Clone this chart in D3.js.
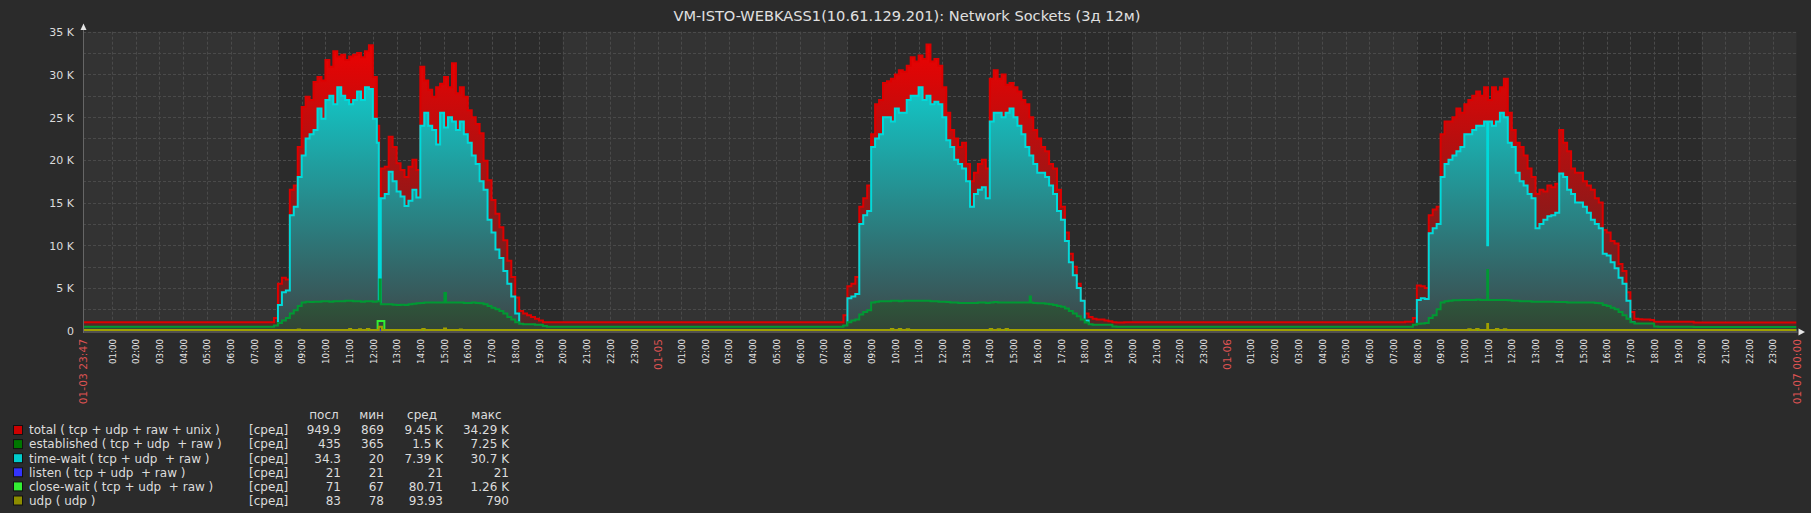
<!DOCTYPE html>
<html><head><meta charset="utf-8">
<script src="https://cdn.jsdelivr.net/npm/d3@7"></script>
<style>
html,body{margin:0;padding:0;background:#2b2b2b;}
svg{display:block;}
text{font-family:"DejaVu Sans",sans-serif;}
</style></head><body>
<svg id="chart" width="1811" height="513"></svg>
<script>
// ---------------- DATA ----------------
const chartTitle = "VM-ISTO-WEBKASS1(10.61.129.201): Network Sockets (3д 12м)";
const rangeStart = "2025-01-03 23:47";
const rangeEnd = "2025-01-07 00:00";
const dayDates = ["2025-01-04", "2025-01-05", "2025-01-06"];
const workHours = [8, 20];
const sampleFirst = "07:30";      // first 10-minute sample of each day
const sampleStepMin = 10;
const yTickValues = [0, 5, 10, 15, 20, 25, 30, 35];   // thousands
const yGridValues = [2.5, 5, 7.5, 10, 12.5, 15, 17.5, 20, 22.5, 25, 27.5, 30, 32.5, 35];

// values in thousands; nights = [before day1, after day1, after day2, after day3]
const totalNight = [1.0, 1.0, 1.0, 0.95];
const totalDay1 = [1.0,1.0,1.5, 5.5,6.2,6.0,16.5,17.0,21.5, 26.2,27.4,27.0,29.1,29.7,29.3, 31.7,30.9,32.7,32.1,32.3,31.7, 32.1,32.3,32.5,32.0,32.7,33.4, 29.7,24.0,19.0,19.2,22.7,21.5, 19.6,18.8,18.0,19.2,20.0,18.8, 30.9,29.3,28.2,27.4,28.5,28.9, 29.7,28.5,31.3,27.8,28.5,27.4, 25.8,25.0,24.2,23.1,19.9,17.6, 15.3,13.7,12.1,10.6,8.2,6.3, 3.9,2.3,2.0,1.8,1.6,1.4, 1.2,1.0,1.0,1.0];
const totalDay2 = [1.0,1.0,1.8, 5.2,5.5,6.3,14.5,15.5,17.0, 23.0,26.5,27.0,29.0,29.2,29.5, 30.0,30.5,30.3,31.0,32.0,31.5, 32.2,31.8,33.5,31.5,31.8,31.0, 28.5,25.5,23.5,22.5,21.5,22.0, 19.5,17.5,18.5,19.5,20.0,19.0, 29.5,30.5,29.5,30.0,28.8,29.0, 28.5,28.0,27.0,26.5,25.0,23.5, 22.5,21.5,21.0,19.5,19.0,16.5, 14.5,11.5,9.0,7.5,5.5,3.5, 2.0,1.6,1.4,1.3,1.3,1.2, 1.1,1.0,0.95,0.95];
const totalDay3 = [1.05,1.05,1.5, 5.3,5.2,5.0,13.5,14.2,14.5, 23.0,24.5,24.5,25.0,26.0,25.5, 26.5,27.0,27.5,28.0,27.5,28.5, 27.0,28.5,28.0,28.5,29.5,25.5, 23.5,22.0,21.5,20.5,19.0,18.0, 16.0,16.5,16.3,17.0,16.8,17.2, 23.5,22.0,21.0,19.0,18.5,18.5, 17.5,17.0,16.5,15.5,15.0,11.8, 11.5,10.5,10.2,7.8,7.0,4.5, 2.2,1.4,1.35,1.3,1.3,1.25, 1.05,1.05,1.05,1.05,1.05,1.05, 1.05,1.05,1.05,1.05];

const timeWaitNight = [0.03, 0.03, 0.03, 0.034];
const timeWaitDay1 = [0.03,0.03,0.1, 3.0,4.5,4.7,13.5,14.5,18.0, 20.5,22.5,23.0,23.5,26.0,24.8, 27.0,27.5,26.5,28.5,27.5,27.0, 26.5,27.0,28.0,27.0,28.5,28.3, 24.8,22.0,15.5,16.0,18.6,17.5, 16.3,15.7,14.6,15.2,16.5,15.6, 24.0,25.5,24.0,23.5,21.8,25.5, 23.8,25.0,24.5,23.5,24.5,23.0, 22.0,20.5,19.5,17.5,16.5,13.0, 11.5,9.5,8.5,7.0,5.5,4.0, 2.0,0.3,0.15,0.1,0.1,0.05, 0.03,0.03,0.03,0.03];
const timeWaitDay2 = [0.03,0.03,0.5, 3.8,4.0,4.3,12.5,13.5,14.0, 21.5,22.5,23.0,25.0,25.0,24.5, 26.0,25.5,25.5,27.0,27.5,27.5, 28.5,27.0,27.5,26.5,26.8,26.5, 25.0,22.3,21.5,20.0,19.5,19.0, 17.5,14.5,16.0,16.5,16.8,15.5, 24.5,25.5,25.5,25.0,25.5,26.0, 25.0,24.0,23.0,21.5,20.5,19.5, 18.5,18.5,18.0,17.0,16.0,14.0, 13.0,10.5,8.0,6.5,5.0,3.5, 1.2,0.3,0.15,0.1,0.08,0.05, 0.03,0.03,0.03,0.03];
const timeWaitDay3 = [0.03,0.03,0.3, 3.6,3.8,3.7,11.4,12.0,12.5, 18.0,19.5,20.0,20.5,21.0,21.5, 23.0,23.0,23.5,24.0,24.0,24.5, 24.5,24.0,24.5,25.5,25.0,22.0, 21.5,18.5,17.5,17.0,16.0,15.5, 12.0,12.5,13.0,13.4,13.5,13.8, 18.4,18.0,16.5,16.0,15.0,15.0, 14.5,13.8,13.0,12.5,12.0,9.0, 8.8,8.0,7.3,6.2,5.5,3.5, 1.0,0.3,0.2,0.15,0.1,0.05, 0.03,0.03,0.03,0.03,0.03,0.03, 0.03,0.03,0.03,0.03];

const establishedNight = [0.45, 0.45, 0.45, 0.435];
const establishedDay1 = [0.45,0.45,0.6, 0.9,1.2,1.5,2.0,2.4,2.9, 3.3,3.4,3.35,3.4,3.4,3.45, 3.45,3.4,3.45,3.45,3.45,3.5, 3.5,3.45,3.45,3.4,3.45,3.45, 3.4,3.45,3.1,3.1,3.1,3.05, 3.0,3.05,3.0,3.1,3.15,3.2, 3.25,3.3,3.3,3.3,3.3,3.3, 3.3,3.3,3.3,3.3,3.3,3.25, 3.25,3.3,3.25,3.2,3.1,2.9, 2.7,2.5,2.3,2.0,1.6,1.3, 1.0,0.8,0.75,0.75,0.75,0.7, 0.7,0.55,0.45,0.45];
const establishedDay2 = [0.45,0.45,0.6, 1.0,1.2,1.3,1.9,2.2,2.4, 3.3,3.4,3.45,3.45,3.45,3.5, 3.5,3.45,3.5,3.5,3.5,3.5, 3.5,3.5,3.5,3.45,3.45,3.4, 3.4,3.35,3.3,3.3,3.25,3.25, 3.25,3.25,3.25,3.3,3.3,3.25, 3.3,3.35,3.3,3.3,3.3,3.3, 3.3,3.3,3.3,3.3,3.3,3.25, 3.2,3.2,3.15,3.1,3.0,2.9, 2.8,2.6,2.3,2.0,1.7,1.3, 0.95,0.75,0.7,0.7,0.7,0.7, 0.7,0.5,0.45,0.45];
const establishedDay3 = [0.45,0.45,0.7, 0.8,0.85,0.9,1.5,1.8,2.5, 3.3,3.45,3.5,3.55,3.55,3.6, 3.6,3.6,3.6,3.65,3.6,3.6, 3.6,3.6,3.6,3.6,3.6,3.55, 3.5,3.5,3.45,3.45,3.45,3.4, 3.4,3.4,3.4,3.4,3.4,3.35, 3.35,3.35,3.3,3.3,3.3,3.3, 3.3,3.3,3.3,3.25,3.2,3.0, 2.9,2.7,2.5,2.2,1.8,1.4, 1.0,0.85,0.85,0.85,0.85,0.85, 0.5,0.45,0.45,0.45,0.45,0.45, 0.45,0.45,0.45,0.45];

const listenLevel = 0.021;
const closeWaitLevel = 0.071;
const udpLevel = 0.083;

// short events: [time, value, minutes]
const totalEvents = [["2025-01-04 12:16", 0.6, 6]];
const timeWaitEvents = [["2025-01-04 12:15", 0.05, 9], ["2025-01-06 10:58", 10.0, 2]];
const establishedEvents = [["2025-01-04 12:17", 6.0, 3], ["2025-01-04 15:01", 4.4, 4], ["2025-01-05 15:41", 4.0, 3], ["2025-01-06 10:58", 7.1, 2]];
const closeWaitEvents = [["2025-01-04 12:12", 1.15, 17]];
const udpEvents = [["2025-01-04 08:50", 0.15, 6], ["2025-01-04 11:00", 0.2, 5], ["2025-01-04 11:25", 0.18, 5], ["2025-01-04 11:45", 0.2, 6], ["2025-01-04 12:15", 0.45, 8], ["2025-01-04 14:05", 0.2, 6], ["2025-01-04 15:00", 0.25, 5], ["2025-01-04 15:40", 0.15, 5],
  ["2025-01-05 09:50", 0.2, 6], ["2025-01-05 10:10", 0.2, 6], ["2025-01-05 10:30", 0.18, 6], ["2025-01-05 14:00", 0.2, 6], ["2025-01-05 14:20", 0.18, 6], ["2025-01-05 14:40", 0.2, 6],
  ["2025-01-06 10:10", 0.18, 6], ["2025-01-06 10:30", 0.2, 6], ["2025-01-06 10:58", 0.79, 2], ["2025-01-06 11:20", 0.2, 6], ["2025-01-06 11:40", 0.18, 6]];

// legend
const legendNames = ["total ( tcp + udp + raw + unix )", "established ( tcp + udp  + raw )", "time-wait ( tcp + udp  + raw )", "listen ( tcp + udp  + raw )", "close-wait ( tcp + udp  + raw )", "udp ( udp )"];
const legendFunc = "[сред]";
const legendHeaders = ["посл", "мин", "сред", "макс"];
const legendLast = ["949.9", "435", "34.3", "21", "71", "83"];
const legendMin = ["869", "365", "20", "21", "67", "78"];
const legendAvg = ["9.45 K", "1.5 K", "7.39 K", "21", "80.71", "93.93"];
const legendMax = ["34.29 K", "7.25 K", "30.7 K", "21", "1.26 K", "790"];
const legendColors = ["#cc0000", "#007700", "#00cccc", "#3333ff", "#33ee33", "#8c8c00"];

// ---------------- CHART ----------------
const W = 1811, H = 513;
const plot = {left: 83, right: 1796.5, top: 31.7, bottom: 330.7};
const parseT = d3.timeParse("%Y-%m-%d %H:%M");
const tStart = parseT(rangeStart), tEnd = parseT(rangeEnd);
const x = d3.scaleTime().domain([tStart, tEnd]).range([plot.left, plot.right]);
const y = d3.scaleLinear().domain([0, 35]).range([plot.bottom, plot.top]);

const svg = d3.select("#chart");
svg.append("rect").attr("width", W).attr("height", H).attr("fill", "#2b2b2b");

// plot background + work periods
svg.append("rect").attr("x", plot.left).attr("y", plot.top).attr("width", plot.right - plot.left).attr("height", plot.bottom - plot.top).attr("fill", "#333333");
svg.selectAll("rect.work").data(dayDates).join("rect").attr("class", "work")
  .attr("x", d => x(d3.timeHour.offset(parseT(d + " 00:00"), workHours[0])))
  .attr("width", d => x(d3.timeHour.offset(parseT(d + " 00:00"), workHours[1])) - x(d3.timeHour.offset(parseT(d + " 00:00"), workHours[0])))
  .attr("y", plot.top).attr("height", plot.bottom - plot.top).attr("fill", "#2b2b2b");

// grid
const hourTicks = d3.timeHour.range(d3.timeHour.ceil(tStart), tEnd).filter(t => x(t) - x(tStart) > 12);
const grid = svg.append("g").attr("stroke", "#4a4a4a").attr("stroke-dasharray", "3,2").attr("stroke-width", 1);
grid.selectAll("line.v").data(hourTicks).join("line").attr("class", "v")
  .attr("x1", d => Math.round(x(d)) + 0.5).attr("x2", d => Math.round(x(d)) + 0.5)
  .attr("y1", plot.top).attr("y2", plot.bottom);
grid.selectAll("line.h").data(yGridValues).join("line").attr("class", "h")
  .attr("x1", plot.left).attr("x2", plot.right)
  .attr("y1", d => Math.round(y(d)) + 0.5).attr("y2", d => Math.round(y(d)) + 0.5);

// series builder
function buildSeries(night, days, events) {
  const pts = [[tStart, night[0]]];
  days.forEach((vals, d) => {
    const t0 = parseT(dayDates[d] + " " + sampleFirst);
    vals.forEach((v, i) => pts.push([d3.timeMinute.offset(t0, i * sampleStepMin), v]));
    pts.push([d3.timeMinute.offset(t0, vals.length * sampleStepMin), night[d + 1]]);
  });
  pts.push([tEnd, night[night.length - 1]]);
  return addEvents(pts, events);
}
function flatSeries(level, events) {
  return addEvents([[tStart, level], [tEnd, level]], events);
}
function addEvents(pts, events) {
  const base = pts.slice();
  const valueAt = t => { let v = base[0][1]; for (const p of base) { if (p[0] <= t) v = p[1]; else break; } return v; };
  const extra = [];
  events.forEach(([ts, v, dur]) => {
    const t = parseT(ts), t2 = d3.timeMinute.offset(t, dur);
    extra.push([t, v], [t2, valueAt(t2)]);
  });
  return pts.concat(extra).sort((a, b) => a[0] - b[0]);
}

const sTotal = buildSeries(totalNight, [totalDay1, totalDay2, totalDay3], totalEvents);
const sTimeWait = buildSeries(timeWaitNight, [timeWaitDay1, timeWaitDay2, timeWaitDay3], timeWaitEvents);
const sEstablished = buildSeries(establishedNight, [establishedDay1, establishedDay2, establishedDay3], establishedEvents);
const sListen = flatSeries(listenLevel, []);
const sCloseWait = flatSeries(closeWaitLevel, closeWaitEvents);
const sUdp = flatSeries(udpLevel, udpEvents);

const defs = svg.append("defs");
defs.append("clipPath").attr("id", "clip").append("rect")
  .attr("x", plot.left).attr("y", plot.top - 2).attr("width", plot.right - plot.left).attr("height", plot.bottom - plot.top + 3);
function grad(id, top, bottom) {
  const g = defs.append("linearGradient").attr("id", id).attr("gradientUnits", "userSpaceOnUse")
    .attr("x1", 0).attr("x2", 0).attr("y1", y(35)).attr("y2", y(0));
  g.append("stop").attr("offset", "0%").attr("stop-color", top);
  g.append("stop").attr("offset", "100%").attr("stop-color", bottom);
}
grad("gRed", "rgb(243,0,0)", "rgb(80,40,40)");
grad("gCyan", "rgb(8,228,228)", "rgb(62,70,72)");
grad("gGreen", "rgb(0,255,90)", "rgb(50,68,55)");

const area = d3.area().curve(d3.curveStepAfter).x(d => x(d[0])).y0(y(0)).y1(d => y(d[1]));
const line = d3.line().curve(d3.curveStepAfter).x(d => x(d[0])).y(d => y(d[1]));

const g = svg.append("g").attr("clip-path", "url(#clip)");
g.append("path").datum(sTotal).attr("d", area).attr("fill", "url(#gRed)");
g.append("path").datum(sTotal).attr("d", line).attr("fill", "none").attr("stroke", "#dd0000").attr("stroke-width", 2);
g.append("path").datum(sTimeWait).attr("d", area).attr("fill", "url(#gCyan)");
g.append("path").datum(sTimeWait).attr("d", line).attr("fill", "none").attr("stroke", "#00dada").attr("stroke-width", 2);
g.append("path").datum(sEstablished).attr("d", area).attr("fill", "url(#gGreen)");
g.append("path").datum(sEstablished).attr("d", line).attr("fill", "none").attr("stroke", "#009933").attr("stroke-width", 2);
g.append("path").datum(sListen).attr("d", line).attr("fill", "none").attr("stroke", "#3333ff").attr("stroke-width", 2);
g.append("path").datum(sCloseWait).attr("d", line).attr("fill", "none").attr("stroke", "#33ee33").attr("stroke-width", 2);
g.append("path").datum(sUdp).attr("d", line).attr("fill", "none").attr("stroke", "#a0a000").attr("stroke-width", 2);

// axes lines
svg.append("rect").attr("x", plot.left).attr("y", 331).attr("width", plot.right - plot.left + 1).attr("height", 2).attr("fill", "#505050");
svg.append("line").attr("x1", 83.5).attr("x2", 83.5).attr("y1", 28).attr("y2", 333).attr("stroke", "#666").attr("stroke-width", 1);
svg.append("path").attr("d", "M80.5,30 L86.5,30 L83.5,23.5 Z").attr("fill", "#e6e6e6");
svg.append("path").attr("d", "M1798.5,328.5 L1798.5,335.5 L1805,332 Z").attr("fill", "#e6e6e6");

// y axis labels
const yAxis = d3.axisLeft(y).tickValues(yTickValues).tickSize(0).tickPadding(0)
  .tickFormat(d => d === 0 ? "0" : d + " K");
const yg = svg.append("g").attr("transform", "translate(74,0)").call(yAxis);
yg.select(".domain").remove();
yg.selectAll("text").attr("fill", "#dcdcdc").attr("font-size", "11px").attr("font-family", "DejaVu Sans").attr("dy", "0.36em");

// x axis labels
const fmtHour = d3.timeFormat("%H:%M"), fmtDay = d3.timeFormat("%m-%d"), fmtFull = d3.timeFormat("%m-%d %H:%M");
const allTicks = [tStart].concat(hourTicks, [tEnd]);
const isRed = t => +t === +tStart || +t === +tEnd || (t.getHours() === 0 && t.getMinutes() === 0);
const xAxis = d3.axisBottom(x).tickValues(allTicks).tickSize(0).tickPadding(0)
  .tickFormat(t => (+t === +tStart || +t === +tEnd) ? fmtFull(t) : (t.getHours() === 0 ? fmtDay(t) : fmtHour(t)));
const xg = svg.append("g").attr("transform", "translate(0,332)").call(xAxis);
xg.select(".domain").remove();
xg.selectAll("text")
  .attr("transform", "rotate(-90)")
  .attr("text-anchor", "end")
  .attr("x", -7).attr("y", 0).attr("dy", "0.36em")
  .attr("font-family", "DejaVu Sans")
  .attr("font-size", d => isRed(d) ? "10.7px" : "8.7px")
  .attr("fill", d => isRed(d) ? "#dc5252" : "#e4e4e4");

// title
svg.append("text").attr("x", 907).attr("y", 21).attr("text-anchor", "middle")
  .attr("font-size", "14.6px").attr("fill", "#e0e0e0").text(chartTitle);

// legend
const lg = svg.append("g").attr("font-size", "12px").attr("fill", "#dcdcdc");
const headerX = [324, 371.5, 422, 486.5];
const colX = [341, 384, 443, 509];
lg.selectAll("text.hd").data(legendHeaders).join("text").attr("class", "hd")
  .attr("x", (d, i) => headerX[i]).attr("y", 419).attr("text-anchor", "middle").text(d => d);
const rowY = i => 430 + i * 14.1;
legendNames.forEach((name, i) => {
  const cy = rowY(i);
  lg.append("rect").attr("x", 13.5).attr("y", cy - 4.5).attr("width", 9).attr("height", 9)
    .attr("fill", legendColors[i]).attr("stroke", "#111").attr("stroke-width", 1);
  lg.append("text").attr("x", 29).attr("y", cy + 4.3).attr("xml:space", "preserve").style("white-space", "pre").text(name);
  lg.append("text").attr("x", 249).attr("y", cy + 4.3).text(legendFunc);
  [legendLast[i], legendMin[i], legendAvg[i], legendMax[i]].forEach((v, j) => {
    lg.append("text").attr("x", colX[j]).attr("y", cy + 4.3).attr("text-anchor", "end").text(v);
  });
});
</script>
</body></html>
